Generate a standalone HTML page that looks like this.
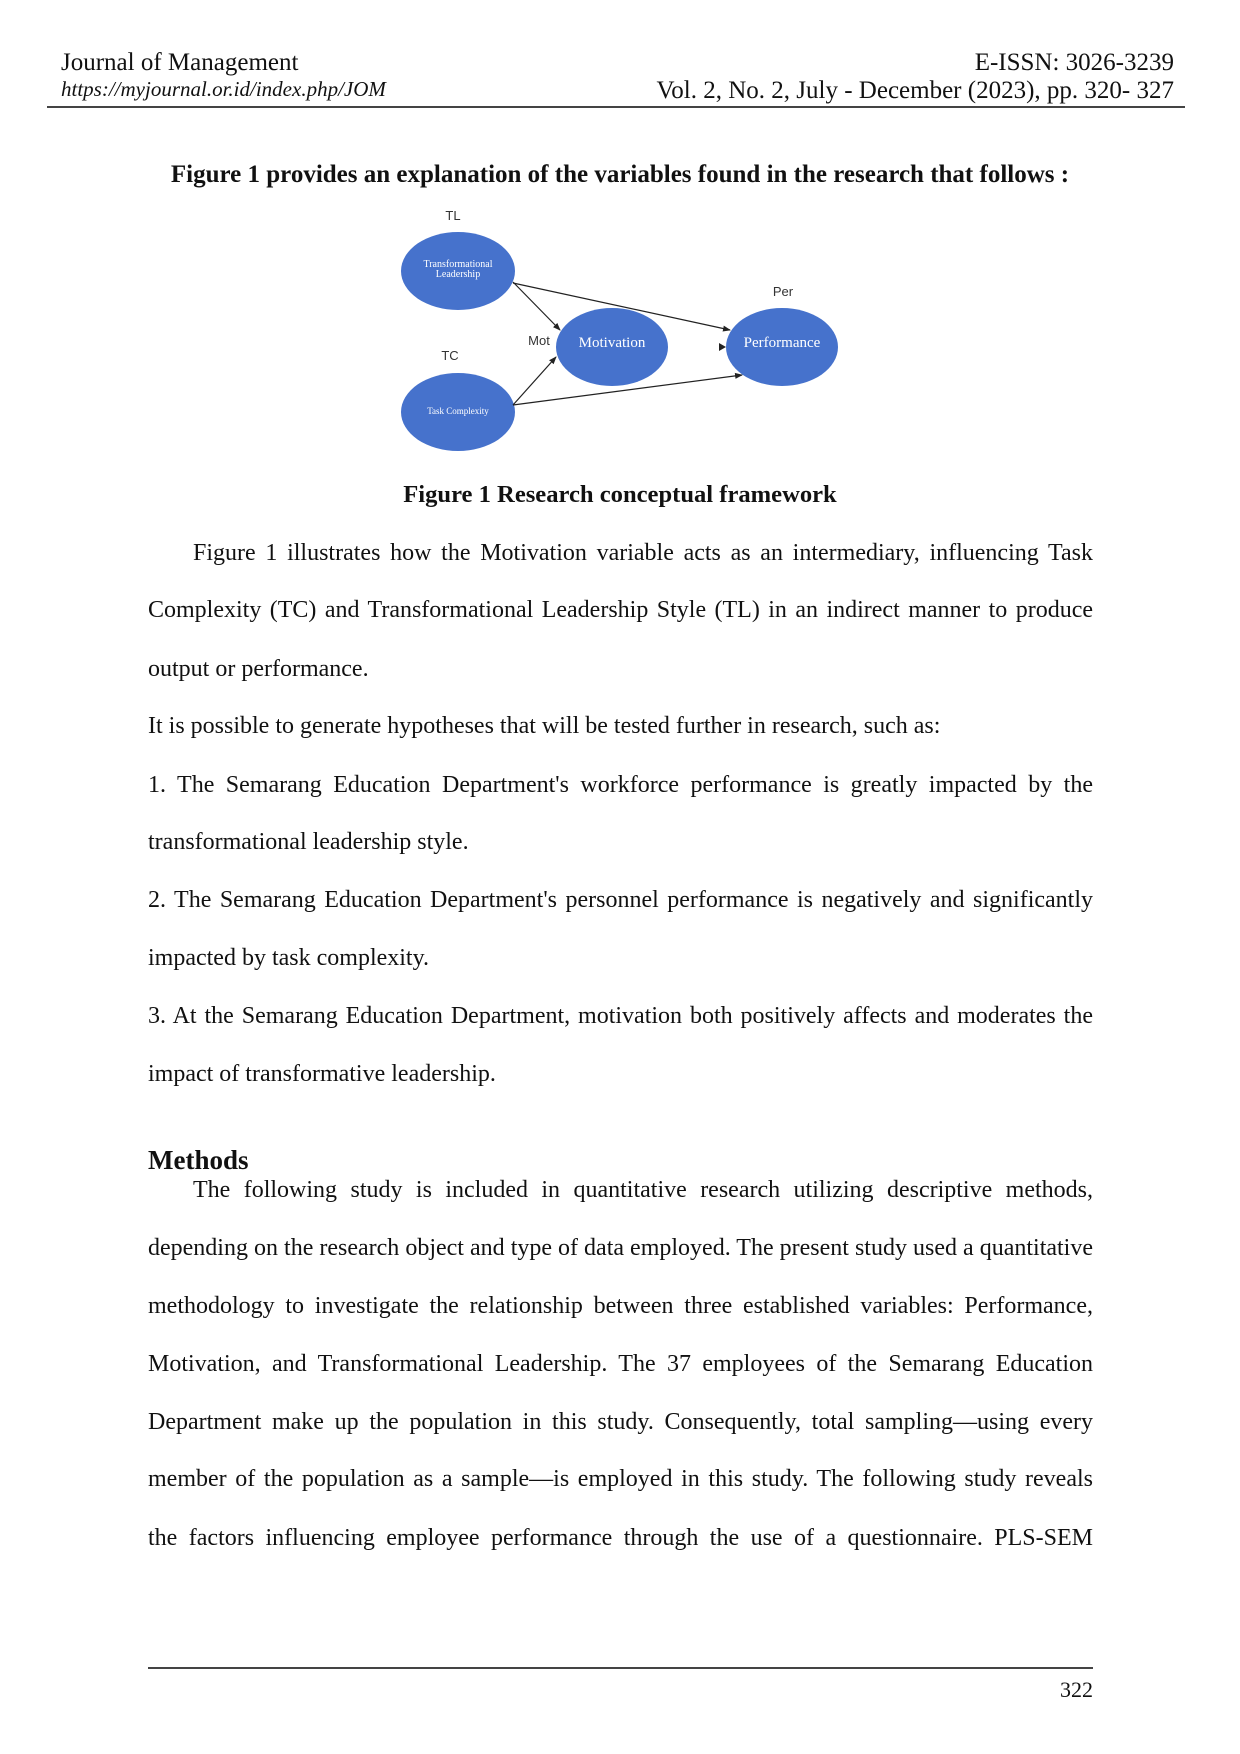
<!DOCTYPE html>
<html><head><meta charset="utf-8">
<style>
html,body{margin:0;padding:0;background:#fff}
body{width:1240px;height:1754px;position:relative;overflow:hidden;font-family:"Liberation Serif",serif;color:#111}
.a{position:absolute;white-space:nowrap;line-height:28px}
.l{position:absolute;left:148px;width:945px;font-size:24px;line-height:28px;white-space:nowrap}
.j{text-align:justify;text-align-last:justify}
.hr{position:absolute;height:2px;background:#444}
</style></head><body>
<div class="a" style="left:61px;top:49px;font-size:25px">Journal of Management</div>
<div class="a" style="left:61px;top:75px;font-size:21px;font-style:italic">https://myjournal.or.id/index.php/JOM</div>
<div class="a" style="right:66px;top:49px;font-size:25px;text-align:right">E-ISSN: 3026-3239</div>
<div class="a" style="right:66px;top:77px;font-size:25px;text-align:right">Vol. 2, No. 2, July - December (2023), pp. 320- 327</div>
<div class="hr" style="left:47px;width:1138px;top:106px"></div>

<div class="a" style="left:0;width:1240px;text-align:center;top:161px;font-size:25px;font-weight:bold">Figure 1 provides an explanation of the variables found in the research that follows :</div>

<svg style="position:absolute;left:0;top:0" width="1240" height="470">
<defs><marker id="ar" markerWidth="8" markerHeight="8" refX="7" refY="4" orient="auto" markerUnits="userSpaceOnUse"><path d="M0,1 L8,4 L0,7z" fill="#222"/></marker></defs>
<g fill="#4672cc">
<ellipse cx="458" cy="271" rx="57" ry="39"/>
<ellipse cx="612" cy="347" rx="56" ry="39"/>
<ellipse cx="782" cy="347" rx="56" ry="39"/>
<ellipse cx="458" cy="412" rx="57" ry="39"/>
</g>
<g stroke="#222" stroke-width="1.2" fill="none" marker-end="url(#ar)">
<line x1="513" y1="282" x2="560" y2="330"/>
<line x1="513" y1="283" x2="730" y2="330"/>
<line x1="513" y1="405" x2="556" y2="357"/>
<line x1="513" y1="405" x2="742" y2="375"/>
</g>
<path d="M719,343 L726,347 L719,351z" fill="#222"/>
<g font-family="Liberation Sans,sans-serif" font-size="13" fill="#333" text-anchor="middle">
<text x="453" y="220">TL</text>
<text x="783" y="296">Per</text>
<text x="539" y="345">Mot</text>
<text x="450" y="360">TC</text>
</g>
<g font-family="Liberation Serif,serif" fill="#fff" text-anchor="middle">
<text x="458" y="267" font-size="10">Transformational</text>
<text x="458" y="277" font-size="10">Leadership</text>
<text x="612" y="347" font-size="15">Motivation</text>
<text x="782" y="347" font-size="15">Performance</text>
<text x="458" y="414" font-size="9">Task Complexity</text>
</g>
</svg>

<div class="a" style="left:0;width:1240px;text-align:center;top:481px;font-size:24.6px;font-weight:bold">Figure 1 Research conceptual framework</div>

<div class="l j" style="top:539px;padding-left:45px;width:900px">Figure 1 illustrates how the Motivation variable acts as an intermediary, influencing Task</div>
<div class="l j" style="top:596px">Complexity (TC) and Transformational Leadership Style (TL) in an indirect manner to produce</div>
<div class="l" style="top:655px">output or performance.</div>
<div class="l" style="top:712px">It is possible to generate hypotheses that will be tested further in research, such as:</div>
<div class="l j" style="top:771px">1. The Semarang Education Department's workforce performance is greatly impacted by the</div>
<div class="l" style="top:828px">transformational leadership style.</div>
<div class="l j" style="top:886px">2. The Semarang Education Department's personnel performance is negatively and significantly</div>
<div class="l" style="top:944px">impacted by task complexity.</div>
<div class="l j" style="top:1002px">3. At the Semarang Education Department, motivation both positively affects and moderates the</div>
<div class="l" style="top:1060px">impact of transformative leadership.</div>

<div class="a" style="left:148px;top:1146px;font-size:27px;font-weight:bold">Methods</div>
<div class="l j" style="top:1176px;padding-left:45px;width:900px">The following study is included in quantitative research utilizing descriptive methods,</div>
<div class="l j" style="top:1234px">depending on the research object and type of data employed. The present study used a quantitative</div>
<div class="l j" style="top:1292px">methodology to investigate the relationship between three established variables: Performance,</div>
<div class="l j" style="top:1350px">Motivation, and Transformational Leadership. The 37 employees of the Semarang Education</div>
<div class="l j" style="top:1408px">Department make up the population in this study. Consequently, total sampling—using every</div>
<div class="l j" style="top:1465px">member of the population as a sample—is employed in this study. The following study reveals</div>
<div class="l j" style="top:1524px">the factors influencing employee performance through the use of a questionnaire. PLS-SEM</div>

<div class="hr" style="left:148px;width:945px;top:1667px"></div>
<div class="a" style="right:147px;top:1676px;font-size:22px">322</div>
<script>
document.querySelectorAll('.l').forEach(function(e){
  var ls=0;
  while(e.scrollWidth>e.clientWidth+1 && ls>-3){ls-=0.1;e.style.letterSpacing=ls+'px';}
});
</script>
</body></html>
